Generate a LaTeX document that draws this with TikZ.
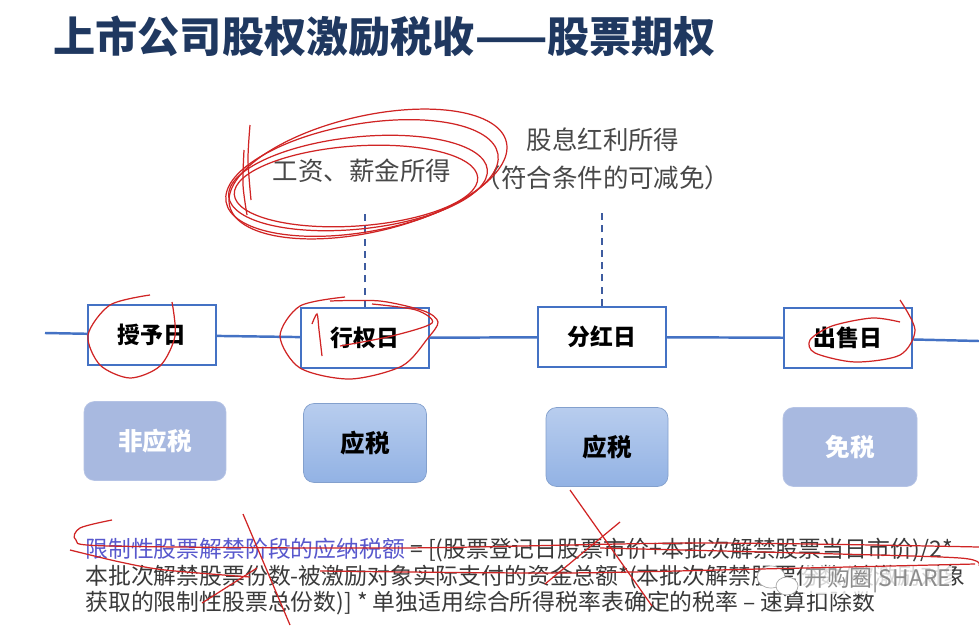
\documentclass[tikz,border=0pt]{standalone}
\usepackage{fontspec}
\setmainfont{Noto Sans CJK SC}
\usepackage{xcolor}
\usetikzlibrary{positioning,calc}
\definecolor{titleNavy}{RGB}{31,56,96}
\definecolor{lineBlue}{RGB}{68,114,196}
\definecolor{guideBlue}{RGB}{62,92,160}
\definecolor{labelGray}{RGB}{72,72,72}
\definecolor{noteBlue}{RGB}{88,88,205}
\definecolor{paleBlue}{RGB}{168,185,224}
\definecolor{taxTop}{RGB}{184,205,238}
\definecolor{taxBottom}{RGB}{146,178,228}
\definecolor{penRed}{RGB}{208,36,36}

\begin{document}
\begin{tikzpicture}[x=0.02cm,y=-0.02cm,font=\fontsize{13}{15}\selectfont]
    \tikzset{
        dayBox/.style={draw=lineBlue,line width=1.1pt,fill=white,minimum width=2.56cm,minimum height=1.2cm,font=\fontsize{13}{15}\selectfont\bfseries},
        untaxed/.style={rounded corners=6pt,fill=paleBlue,draw=paleBlue!85!white,minimum height=1.58cm,text=white,font=\fontsize{14}{16}\selectfont\bfseries},
        taxed/.style={rounded corners=6pt,top color=taxTop,bottom color=taxBottom,draw=taxBottom!90!black,minimum height=1.58cm,font=\fontsize{14}{16}\selectfont\bfseries},
        upperLabel/.style={text=labelGray,font=\fontsize{14.5}{21.5}\selectfont},
        formula/.style={anchor=west,inner sep=0pt,text=labelGray!80!black},
        timeLine/.style={draw=lineBlue,line width=1.4pt},
        guide/.style={draw=guideBlue,line width=0.7pt,dash pattern=on 4pt off 3pt},
        penStroke/.style={draw=penRed,line width=0.7pt}
    }
    \fill[white] (0,0) rectangle (979,625);
    \useasboundingbox (0,0) rectangle (979,625);
    % Title
    \node[anchor=west,inner sep=0pt,text=titleNavy,font=\fontsize{24}{28}\selectfont\bfseries] (title) at (53,36) {上市公司股权激励税收——股票期权};
    % Timeline
    \coordinate (tlStart) at (45,333);
    \coordinate (tlEnd) at (979,341);
    \node[dayBox] (grant) at (152,335) {授予日};
    \node[dayBox] (exercise) at (365,338) {行权日};
    \node[dayBox] (dividend) at (602,337) {分红日};
    \node[dayBox] (sale) at (848,338) {出售日};
    \draw[timeLine] (tlStart) -- (grant) -- (exercise) -- (dividend) -- (sale) -- (tlEnd);
    % Income labels
    \node[upperLabel] (wage) at (362,171) {工资、薪金所得};
    \node[upperLabel,align=center] (dividendIncome) at (603,159) {股息红利所得\\（符合条件的可减免）};
    \coordinate (wageFoot) at (365,211);
    \coordinate (dividendFoot) at (602,213);
    \draw[guide] (exercise.north) -- (wageFoot);
    \draw[guide] (dividend.north) -- (dividendFoot);
    % Tax status
    \node[untaxed,minimum width=2.84cm] (nonTax) at (155,441) {非应税};
    \node[taxed,minimum width=2.46cm] (taxA) at (365,443) {应税};
    \node[taxed,minimum width=2.44cm] (taxB) at (607,447) {应税};
    \node[untaxed,minimum width=2.68cm] (exempt) at (850,447) {免税};
    % Formula
    \node[formula] (formulaA) at (85,550) {\textcolor{noteBlue}{限制性股票解禁阶段的应纳税额} = [(股票登记日股票市价+本批次解禁股票当日市价)/2*};
    \node[formula] (formulaB) at (85,577) {本批次解禁股票份数-被激励对象实际支付的资金总额*(本批次解禁股票份数/被激励对象};
    \node[formula] (formulaC) at (85,603) {获取的限制性股票总份数)] * 单独适用综合所得税率表确定的税率 – 速算扣除数};
    % Watermark
    \draw[gray!70,fill=white] (771,577) ellipse [x radius=14, y radius=11];
    \draw[gray!70,fill=white] (787,586) ellipse [x radius=11, y radius=9];
    \node[anchor=west,inner sep=0.5pt,fill=white,fill opacity=0.8,text opacity=1,text=gray!90,font=\fontsize{13}{15}\selectfont] (watermark) at (803,580) {开购圈|SHARE};
    % Red pen marks
    \draw[penStroke,rotate around={10:(362,178)}] (362,178) ellipse [x radius=138, y radius=54];
    \draw[penStroke,rotate around={6:(358,183)}] (358,183) ellipse [x radius=130, y radius=46];
    \draw[penStroke,rotate around={13:(368,174)}] (368,174) ellipse [x radius=142, y radius=58];
    \draw[penStroke,rotate around={4:(356,186)}] (356,186) ellipse [x radius=122, y radius=40];
    \draw[penStroke] plot[smooth] coordinates {(250,125) (248,160) (251,200)};
    \draw[penStroke] plot[smooth] coordinates {(244,150) (243,185) (247,215)};
    \draw[penStroke] plot[smooth] coordinates {(150,295) (110,305) (88,335) (100,365) (130,378) (160,366) (175,336) (172,302)};
    \draw[penStroke] plot[smooth] coordinates {(345,297) (300,306) (280,336) (300,368) (350,379) (402,366) (428,338) (438,322) (424,311) (380,301) (330,301)};
    \draw[penStroke] plot[smooth] coordinates {(322,356) (319,330) (317,314) (312,324)};
    \draw[penStroke] plot[smooth] coordinates {(340,346) (392,336) (432,323) (416,310) (372,304)};
    \draw[penStroke] plot[smooth] coordinates {(900,300) (915,330) (900,355) (855,362) (815,353) (810,340) (832,326) (872,318) (900,322)};
    \draw[penStroke] plot[smooth] coordinates {(112,520) (80,528) (76,540) (110,546) (400,548) (700,543) (979,547)};
    \draw[penStroke] plot[smooth] coordinates {(70,550) (120,562) (165,570) (250,577)};
    \draw[penStroke] plot[smooth] coordinates {(320,571) (560,573) (760,569) (975,564)};
    \draw[penStroke] plot[smooth] coordinates {(600,548) (800,553) (960,558) (979,566)};
    \draw[penStroke] (243,514) -- (290,625);
    \draw[penStroke] (570,490) -- (652,606);
    \draw[penStroke] (545,584) -- (620,522);
    \draw[penStroke] (202,603) -- (257,568);
\end{tikzpicture}
\end{document}
